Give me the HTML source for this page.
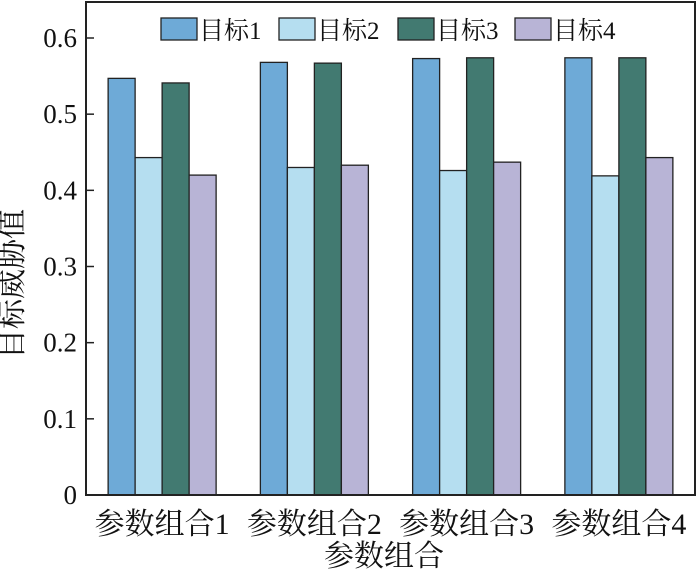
<!DOCTYPE html>
<html><head><meta charset="utf-8"><style>
body{margin:0;background:#fff;}
svg text{font-family:"Liberation Serif","Noto Serif CJK SC","Noto Sans CJK SC",serif;fill:#111;}
</style></head><body>
<svg id="chart" width="700" height="574" viewBox="0 0 700 574">
<g id="marks"></g>
<rect x="86" y="2" width="609" height="493" fill="none" stroke="#222" stroke-width="2"/>
<g id="axes"></g>
<g id="legend"></g>
<text x="22" y="284" font-size="30" text-anchor="middle" transform="rotate(-90 22 284)">目标威胁值</text>
<text x="384" y="566" font-size="30" text-anchor="middle">参数组合</text>
</svg>
<script>
const categories=["参数组合1","参数组合2","参数组合3","参数组合4"];
const seriesNames=["目标1","目标2","目标3","目标4"];
const s1=[0.547,0.568,0.573,0.574];
const s2=[0.443,0.430,0.426,0.419];
const s3=[0.541,0.567,0.574,0.574];
const s4=[0.420,0.433,0.437,0.443];
const yTicks=[0,0.1,0.2,0.3,0.4,0.5,0.6];
const series=[s1,s2,s3,s4];
const colors=["#6eaad7","#b5def0","#427a71","#b8b4d6"];
const NS="http://www.w3.org/2000/svg";
const L=86,R=695,B=495,T0=38;
const y=v=>B-(v/0.6)*(B-T0);
const gw=(R-L)/categories.length;
const bw=27;
const x=(i,j)=>L+gw*i+gw/2-2*bw+j*bw;
const marks=document.getElementById('marks');
series.forEach((s,j)=>s.forEach((v,i)=>{
 const r=document.createElementNS(NS,'rect');
 r.setAttribute('x',x(i,j));r.setAttribute('y',y(v));
 r.setAttribute('width',bw);r.setAttribute('height',B-y(v));
 r.setAttribute('fill',colors[j]);r.setAttribute('stroke','#222');r.setAttribute('stroke-width','1.3');
 
 
 marks.appendChild(r);
}));
const axes=document.getElementById('axes');
yTicks.forEach(t=>{
 const l=document.createElementNS(NS,'line');
 l.setAttribute('x1',L);l.setAttribute('x2',L+8);l.setAttribute('y1',y(t));l.setAttribute('y2',y(t));
 l.setAttribute('stroke','#222');l.setAttribute('stroke-width','1.5');
 
 
 axes.appendChild(l);
 const tx=document.createElementNS(NS,'text');
 tx.setAttribute('x',L-9);tx.setAttribute('y',y(t)+9);tx.setAttribute('font-size','27');tx.setAttribute('text-anchor','end');
 tx.textContent=String(t);
 
 
 axes.appendChild(tx);
});
categories.forEach((c,i)=>{
 const tx=document.createElementNS(NS,'text');
 tx.setAttribute('x',L+gw*i+gw/2);tx.setAttribute('y',534);tx.setAttribute('font-size','30');tx.setAttribute('text-anchor','middle');
 tx.textContent=c;
 
 
 axes.appendChild(tx);
});
const lg=document.getElementById('legend');
const lx=[161,279,398,515];
seriesNames.forEach((n,j)=>{
 const r=document.createElementNS(NS,'rect');
 r.setAttribute('x',lx[j]);r.setAttribute('y',18);r.setAttribute('width',36);r.setAttribute('height',22);
 r.setAttribute('fill',colors[j]);r.setAttribute('stroke','#222');r.setAttribute('stroke-width','1.3');
 
 
 lg.appendChild(r);
 const tx=document.createElementNS(NS,'text');
 tx.setAttribute('x',lx[j]+38);tx.setAttribute('y',39);tx.setAttribute('font-size','25');
 tx.textContent=n;
 
 
 lg.appendChild(tx);
});
</script>
</body></html>
